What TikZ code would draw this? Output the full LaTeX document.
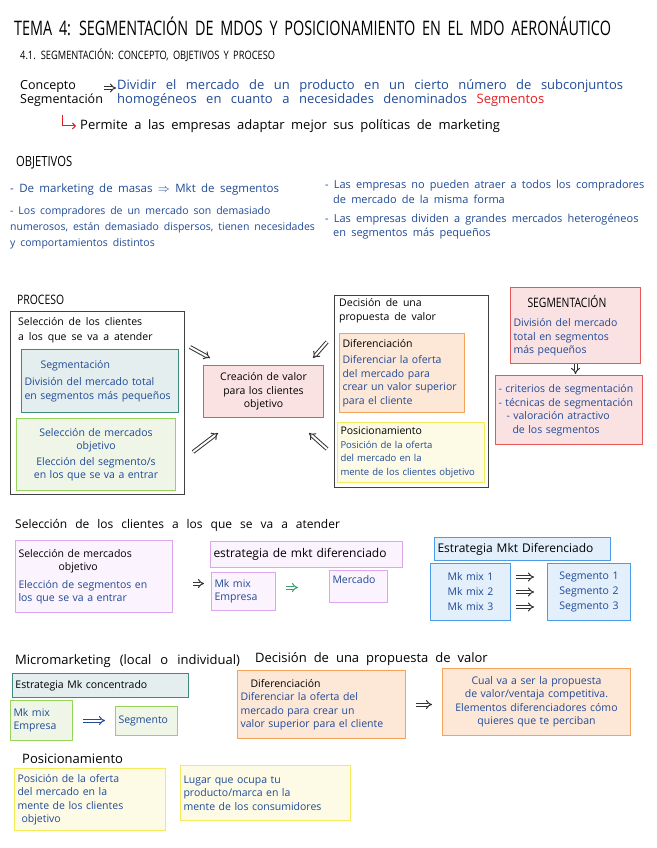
\documentclass[tikz,border=0pt]{standalone}
\usepackage{fontspec}
\setmainfont{Open Sans}[WordSpace=1.8]
\newfontfamily\capsfont{Open Sans}[FakeStretch=0.8,WordSpace=1.8]
\newfontfamily\titlefont{Open Sans}[FakeStretch=0.72,WordSpace=1.8]
\usetikzlibrary{arrows.meta}
\definecolor{ink}{RGB}{32,74,150}
\definecolor{redink}{RGB}{226,30,36}
\definecolor{tealline}{RGB}{62,138,124}
\definecolor{tealfill}{RGB}{228,238,238}
\definecolor{greenline}{RGB}{150,212,92}
\definecolor{greenfill}{RGB}{239,246,232}
\definecolor{redline}{RGB}{232,86,88}
\definecolor{redfill}{RGB}{251,226,226}
\definecolor{orangeline}{RGB}{246,162,88}
\definecolor{orangefill}{RGB}{253,232,216}
\definecolor{yellowline}{RGB}{244,234,90}
\definecolor{yellowfill}{RGB}{253,251,230}
\definecolor{purpleline}{RGB}{220,166,238}
\definecolor{purplefill}{RGB}{251,243,253}
\definecolor{blueline}{RGB}{74,156,232}
\definecolor{bluefill}{RGB}{227,239,251}
\definecolor{arrowgreen}{RGB}{60,160,110}
\newcommand{\boxhead}[1]{\textcolor{black}{#1}}
\newcommand{\widefont}[2]{\fontsize{#1}{15}\selectfont\spaceskip=#2 plus 2pt\relax}
\begin{document}
\begin{tikzpicture}[x=1pt,y=-1pt,
  txt/.style={inner sep=0pt,anchor=west,align=left,font=\fontsize{10.5}{15}\selectfont},
  blu/.style={txt,text=ink},
  caps/.style={inner sep=0pt,anchor=west,font=\capsfont\fontsize{13}{14}\selectfont},
  box/.style={anchor=north west,inner xsep=3pt,inner ysep=2pt,line width=1pt,align=left,text=ink,
    font=\fontsize{10.5}{13.5}\selectfont},
  tealbox/.style={box,draw=tealline,fill=tealfill},
  greenbox/.style={box,draw=greenline,fill=greenfill},
  redbox/.style={box,draw=redline,fill=redfill},
  orangebox/.style={box,draw=orangeline,fill=orangefill},
  yellowbox/.style={box,draw=yellowline,fill=yellowfill},
  purplebox/.style={box,draw=purpleline,fill=purplefill},
  bluebox/.style={box,draw=blueline,fill=bluefill},
  frame/.style={anchor=north west,draw=black!75,line width=1.3pt,inner sep=0pt},
  dbl/.style={draw=black!80,double,double distance=2pt,line width=1pt,-{Implies}},
]
\useasboundingbox (0,0) rectangle (656,848);
% titulo
\node[inner sep=0pt,anchor=west,font=\titlefont\fontsize{20}{22}\selectfont] (tit) at (14,26) {TEMA 4: SEGMENTACIÓN DE MDOS Y POSICIONAMIENTO EN EL MDO AERONÁUTICO};
\node[caps,font=\capsfont\fontsize{11.6}{14}\selectfont] (sub) at (20,55) {4.1. SEGMENTACIÓN: CONCEPTO, OBJETIVOS Y PROCESO};
% concepto
\node[txt,font=\fontsize{12.5}{14}\selectfont] (conc) at (20,93) {Concepto\\Segmentación};
\node[blu,font=\widefont{13}{9.5pt}\fontsize{13}{14}\selectfont] (def) at (117,93) {Dividir el mercado de un producto en un cierto número de subconjuntos\\homogéneos en cuanto a necesidades denominados \textcolor{redink}{Segmentos}};
\draw[dbl,shorten <=1pt,shorten >=1pt] ([yshift=5pt]conc.east) -- ([yshift=5pt]def.west);
\coordinate (ltop) at (62,115);
\node[txt,font=\widefont{13}{6.5pt}] (perm) at (80,126) {Permite a las empresas adaptar mejor sus políticas de marketing};
\draw[redink,line width=1pt,shorten >=4pt,-{Straight Barb[length=3pt]}] (ltop) |- (perm.west);
% objetivos
\node[caps,font=\capsfont\fontsize{14}{14}\selectfont] (objt) at (16,163) {OBJETIVOS};
\node[blu,font=\fontsize{11.5}{15}\selectfont] (o1) at (10,190) {- De marketing de masas $\Rightarrow$ Mkt de segmentos};
\node[blu,font=\fontsize{10.5}{16}\selectfont] (o2) at (10,228) {- Los compradores de un mercado son demasiado\\numerosos, están demasiado dispersos, tienen necesidades\\y comportamientos distintos};
\node[blu,font=\fontsize{11}{15}\selectfont] (o3) at (325,192) {- Las empresas no pueden atraer a todos los compradores\\\hspace*{8pt}de mercado de la misma forma};
\node[blu,font=\fontsize{11}{14}\selectfont] (o4) at (325,227) {- Las empresas dividen a grandes mercados heterogéneos\\\hspace*{8pt}en segmentos más pequeños};
% proceso
\node[caps] (proct) at (17,300) {PROCESO};
\node[frame,minimum width=174,minimum height=183] (proc) at (10,311) {};
\node[txt,font=\fontsize{10.5}{15}\selectfont] (proctxt) at (18,330) {Selección de los clientes\\a los que se va a atender};
\node[tealbox,minimum width=157,minimum height=63,text width=151pt] (seg) at (21,349)
  {\hspace*{16pt}Segmentación\\[4pt]División del mercado total\\en segmentos más pequeños};
\node[greenbox,minimum width=159,minimum height=72,text width=153pt,align=center] (obj) at (16,418)
  {Selección de mercados\\objetivo\\[2pt]Elección del segmento/s\\en los que se va a entrar};
\node[redbox,minimum width=120,minimum height=52,text width=114pt,align=center,text=black] (valor) at (203,365)
  {Creación de valor\\para los clientes\\objetivo};
\coordinate (pa1) at (190,347);
\coordinate (pa2) at (327,342);
\coordinate (pa3) at (193,452);
\coordinate (pa4) at (327,449);
\draw[dbl] (pa1) -- ([xshift=7pt,yshift=7pt]valor.north west);
\draw[dbl] (pa2) -- ([xshift=-11pt,yshift=7pt]valor.north east);
\draw[dbl] (pa3) -- ([xshift=15pt,yshift=-15pt]valor.south west);
\draw[dbl] (pa4) -- ([xshift=-15pt,yshift=-15pt]valor.south east);
\node[frame,minimum width=154,minimum height=192] (dec) at (334,295) {};
\node[txt,font=\fontsize{10.5}{14}\selectfont] (dectxt) at (339,311) {Decisión de una\\propuesta de valor};
\node[orangebox,minimum width=125,minimum height=79,text width=119pt] (dif) at (339,333)
  {\boxhead{Diferenciación}\\[3pt]Diferenciar la oferta\\del mercado para\\crear un valor superior\\para el cliente};
\node[yellowbox,minimum width=147,minimum height=60,text width=141pt,font=\fontsize{9.5}{13.5}\selectfont] (pos) at (337,422)
  {\boxhead{\fontsize{10.5}{13.5}\selectfont Posicionamiento}\\Posición de la oferta\\del mercado en la\\mente de los clientes objetivo};
\node[redbox,minimum width=130,minimum height=76,text width=124pt] (segm) at (510,287)
  {\hspace*{14pt}\boxhead{\capsfont\fontsize{13}{14}\selectfont SEGMENTACIÓN}\\[6pt]División del mercado\\total en segmentos\\más pequeños};
\node[redbox,minimum width=147,minimum height=69,text width=141pt] (tec) at (495,375)
  {- criterios de segmentación\\- técnicas de segmentación\\\hspace*{8pt}- valoración atractivo\\\hspace*{14pt}de los segmentos};
\draw[dbl,shorten >=1pt] (segm.south) -- (segm.south |- tec.north);
% seleccion de los clientes
\node[txt,font=\widefont{12}{8pt}] (selt) at (15,525) {Selección de los clientes a los que se va a atender};
\node[purplebox,minimum width=157,minimum height=72,text width=151pt] (p1) at (15,540)
  {\boxhead{Selección de mercados}\\\hspace*{40pt}\boxhead{objetivo}\\[4pt]Elección de segmentos en\\los que se va a entrar};
\node[purplebox,minimum width=192,minimum height=26,text width=186pt,text=black,font=\widefont{12}{7pt}] (strat) at (210,541)
  {estrategia de mkt diferenciado};
\node[purplebox,minimum width=64,minimum height=38,text width=58pt] (mix) at (211,572) {Mk mix\\Empresa};
\node[purplebox,minimum width=58,minimum height=32,text width=52pt] (merc) at (329,570) {Mercado\\\mbox{}};
\draw[dbl,shorten <=20pt,shorten >=7pt] ([yshift=-7pt]p1.east) -- ([yshift=-7pt]p1.east -| mix.west);
\draw[dbl,draw=arrowgreen,shorten <=10pt,shorten >=31pt] ([yshift=4pt]mix.east) -- ([yshift=4pt]mix.east -| merc.west);
\node[bluebox,minimum width=176,minimum height=23,text width=170pt,text=black,font=\widefont{12}{7pt}] (bstrat) at (434,537)
  {Estrategia Mkt Diferenciado};
\node[bluebox,minimum width=80,minimum height=57,text width=74pt,align=center,font=\fontsize{10.5}{15}\selectfont] (bmix) at (430,563)
  {Mk mix 1\\Mk mix 2\\Mk mix 3};
\node[bluebox,minimum width=83,minimum height=57,text width=77pt,align=center,font=\fontsize{10.5}{15}\selectfont] (bseg) at (547,563)
  {Segmento 1\\Segmento 2\\Segmento 3};
\foreach \dy in {15,0,-15}
  \draw[dbl,shorten <=5pt,shorten >=13pt] ([yshift=\dy pt]bmix.east) -- ([yshift=\dy pt]bmix.east -| bseg.west);
% micromarketing
\node[txt,font=\widefont{13}{9pt}] (micro) at (15,661) {Micromarketing (local o individual)};
\node[txt,font=\widefont{13}{7pt}] (dect) at (255,659) {Decisión de una propuesta de valor};
\node[tealbox,minimum width=176,minimum height=24,text width=170pt,text=black,font=\fontsize{10.5}{13.5}\selectfont] (mc) at (12,673)
  {Estrategia Mk concentrado};
\node[greenbox,minimum width=62,minimum height=40,text width=56pt] (mm) at (10,700) {Mk mix\\Empresa};
\node[greenbox,minimum width=62,minimum height=29,text width=56pt] (ms) at (115,706) {Segmento};
\draw[dbl,draw=ink,shorten <=10pt,shorten >=10pt] (mm.east) -- (mm.east -| ms.west);
\node[orangebox,minimum width=168,minimum height=68,text width=162pt] (od) at (237,670)
  {\hspace*{10pt}\boxhead{Diferenciación}\\Diferenciar la oferta del\\mercado para crear un\\valor superior para el cliente};
\node[orangebox,minimum width=188,minimum height=67,text width=182pt,align=center] (ov) at (442,668)
  {Cual va a ser la propuesta\\de valor/ventaja competitiva.\\Elementos diferenciadores cómo\\quieres que te perciban};
\draw[dbl,shorten <=10pt,shorten >=10pt] (od.east) -- (od.east -| ov.west);
% posicionamiento
\node[txt,font=\fontsize{13}{15}\selectfont] (posh) at (22,759) {Posicionamiento};
\node[yellowbox,minimum width=151,minimum height=62,text width=145pt] (py1) at (14,768)
  {Posición de la oferta\\del mercado en la\\mente de los clientes\\\hspace*{4pt}objetivo};
\node[yellowbox,minimum width=170,minimum height=55,text width=164pt] (py2) at (180,765)
  {Lugar que ocupa tu\\producto/marca en la\\mente de los consumidores};
\end{tikzpicture}
\end{document}
